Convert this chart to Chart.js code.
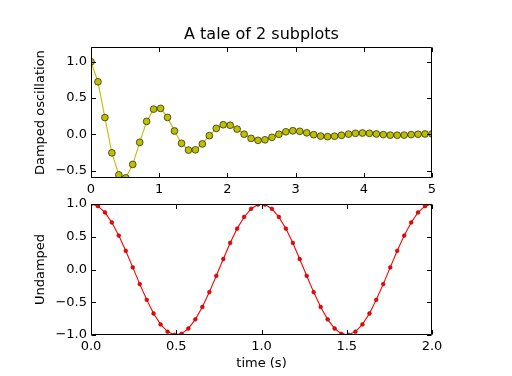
<!DOCTYPE html>
<html>
<head>
<meta charset="utf-8">
<script src="https://cdn.jsdelivr.net/npm/chart.js@4.4.1/dist/chart.umd.min.js"></script>
<style>
  html, body { margin: 0; padding: 0; background: #ffffff; }
  #wrap { position: relative; width: 512px; height: 376px; overflow: hidden; background: #fff; }
  canvas { position: absolute; left: 0; }
  #c1 { top: 0; }
  #c2 { top: 190px; }
</style>
</head>
<body>
<div id="wrap">
  <canvas id="c1" width="512" height="200"></canvas>
  <canvas id="c2" width="512" height="186"></canvas>
</div>
<script>
// ---- Data ----
const titleText = "A tale of 2 subplots";

// Top subplot: damped oscillation, 50 samples on 0..5
const dampedX = [0.000,0.102,0.204,0.306,0.408,0.510,0.612,0.714,0.816,0.918,
                 1.020,1.122,1.224,1.327,1.429,1.531,1.633,1.735,1.837,1.939,
                 2.041,2.143,2.245,2.347,2.449,2.551,2.653,2.755,2.857,2.959,
                 3.061,3.163,3.265,3.367,3.469,3.571,3.673,3.776,3.878,3.980,
                 4.082,4.184,4.286,4.388,4.490,4.592,4.694,4.796,4.898,5.000];
const dampedY = [1.000,0.724,0.232,-0.254,-0.557,-0.599,-0.413,-0.109,0.179,0.348,
                 0.358,0.234,0.047,-0.123,-0.216,-0.212,-0.131,-0.017,0.083,0.133,
                 0.126,0.073,0.003,-0.055,-0.082,-0.074,-0.040,0.002,0.036,0.050,
                 0.043,0.022,-0.004,-0.023,-0.031,-0.025,-0.012,0.004,0.015,0.019,
                 0.015,0.006,-0.003,-0.010,-0.011,-0.009,-0.003,0.002,0.006,0.007];

// Bottom subplot: undamped, 50 samples on 0..2
const undampedX = [0.000,0.041,0.082,0.122,0.163,0.204,0.245,0.286,0.327,0.367,
                   0.408,0.449,0.490,0.531,0.571,0.612,0.653,0.694,0.735,0.776,
                   0.816,0.857,0.898,0.939,0.980,1.020,1.061,1.102,1.143,1.184,
                   1.224,1.265,1.306,1.347,1.388,1.429,1.469,1.510,1.551,1.592,
                   1.633,1.673,1.714,1.755,1.796,1.837,1.878,1.918,1.959,2.000];
const undampedY = [1.000,0.967,0.871,0.718,0.518,0.285,0.032,-0.223,-0.463,-0.672,
                   -0.838,-0.949,-0.998,-0.982,-0.901,-0.761,-0.572,-0.345,-0.096,0.160,
                   0.405,0.624,0.802,0.927,0.992,0.992,0.927,0.802,0.624,0.405,
                   0.160,-0.096,-0.345,-0.572,-0.761,-0.901,-0.982,-0.998,-0.949,-0.838,
                   -0.672,-0.463,-0.223,0.032,0.285,0.518,0.718,0.871,0.967,1.000];

// Tick labels
const topXTicks = [0, 1, 2, 3, 4, 5];
const topYTicks = [-0.5, 0.0, 0.5, 1.0];
const botXTicks = [0.0, 0.5, 1.0, 1.5, 2.0];
const botYTicks = [-1.0, -0.5, 0.0, 0.5, 1.0];

const topYLabel = "Damped oscillation";
const botYLabel = "Undamped";
const botXLabel = "time (s)";

// ---- Helpers ----
const FONT = "'DejaVu Sans', 'Liberation Sans', sans-serif";
function fmt(v, dec) {
  const s = Number(v).toFixed(dec);
  return s.replace('-', '\u2212');
}
function fixedTicks(arr) {
  return function(scale) { scale.ticks = arr.map(v => ({ value: v })); };
}

// Draw the axes frame and inward ticks (matplotlib classic look)
const framePlugin = {
  id: 'frame',
  afterDatasetsDraw(chart) {
    const ctx = chart.ctx;
    const a = chart.chartArea;
    const xs = chart.scales.x, ys = chart.scales.y;
    const L = Math.round(a.left) + 0.5, R = Math.round(a.right) - 0.5;
    const T = Math.round(a.top) + 0.5, B = Math.round(a.bottom) - 0.5;
    const len = 4.5;
    ctx.save();
    ctx.strokeStyle = '#000';
    ctx.lineWidth = 1;
    ctx.beginPath();
    xs.ticks.forEach(t => {
      const px = Math.round(xs.getPixelForValue(t.value)) + 0.5;
      ctx.moveTo(px, B); ctx.lineTo(px, B - len);
      ctx.moveTo(px, T); ctx.lineTo(px, T + len);
    });
    ys.ticks.forEach(t => {
      const py = Math.round(ys.getPixelForValue(t.value)) + 0.5;
      ctx.moveTo(L, py); ctx.lineTo(L + len, py);
      ctx.moveTo(R, py); ctx.lineTo(R - len, py);
    });
    ctx.stroke();
    ctx.beginPath();
    ctx.rect(L, T, R - L, B - T);
    ctx.stroke();
    ctx.restore();
  }
};

function pts(xa, ya) { return xa.map((x, i) => ({ x: x, y: ya[i] })); }

Chart.defaults.font.family = FONT;
Chart.defaults.font.size = 13;
Chart.defaults.color = '#000';

const noGrid = { display: false, drawTicks: false, tickLength: 0 };

// ---- Top chart ----
new Chart(document.getElementById('c1'), {
  type: 'line',
  data: {
    datasets: [{
      data: pts(dampedX, dampedY),
      borderColor: '#bfbf00',
      borderWidth: 1.1,
      backgroundColor: '#bfbf00',
      pointBackgroundColor: '#bfbf00',
      pointBorderColor: '#000',
      pointBorderWidth: 0.6,
      pointRadius: 3.4,
      tension: 0,
      clip: 0
    }]
  },
  options: {
    responsive: false,
    animation: false,
    devicePixelRatio: 1,
    layout: { padding: { left: 0, right: 80, top: 0, bottom: 0 } },
    plugins: {
      legend: { display: false },
      tooltip: { enabled: false },
      title: {
        display: true, text: titleText, fullSize: false, color: '#000',
        font: { family: FONT, size: 16, weight: 'normal' },
        padding: { top: 25, bottom: 3 }
      }
    },
    scales: {
      x: {
        type: 'linear', min: 0, max: 5,
        afterBuildTicks: fixedTicks(topXTicks),
        afterFit(s) { s.height = 22; },
        grid: noGrid, border: { display: false },
        ticks: { padding: 4, maxRotation: 0, autoSkip: false,
                 callback: v => fmt(v, 0) }
      },
      y: {
        type: 'linear', min: -0.6, max: 1.2,
        afterBuildTicks: fixedTicks(topYTicks),
        afterFit(s) { s.width = 91; },
        grid: noGrid, border: { display: false },
        ticks: { padding: 4, autoSkip: false, callback: v => fmt(v, 1) },
        title: { display: true, text: topYLabel, padding: { top: 33, bottom: 0 },
                 font: { family: FONT, size: 13 } }
      }
    }
  },
  plugins: [framePlugin]
});

// ---- Bottom chart ----
new Chart(document.getElementById('c2'), {
  type: 'line',
  data: {
    datasets: [{
      data: pts(undampedX, undampedY),
      borderColor: '#ff0000',
      borderWidth: 1.1,
      backgroundColor: '#ff0000',
      pointBackgroundColor: '#ff0000',
      pointBorderColor: '#7a0000',
      pointBorderWidth: 0.5,
      pointRadius: 1.9,
      tension: 0,
      clip: 0
    }]
  },
  options: {
    responsive: false,
    animation: false,
    devicePixelRatio: 1,
    layout: { padding: { left: 0, right: 80, top: 14, bottom: 0 } },
    plugins: {
      legend: { display: false },
      tooltip: { enabled: false },
      title: { display: false }
    },
    scales: {
      x: {
        type: 'linear', min: 0, max: 2,
        afterBuildTicks: fixedTicks(botXTicks),
        afterFit(s) { s.height = 41; },
        grid: noGrid, border: { display: false },
        ticks: { padding: 4, maxRotation: 0, autoSkip: false,
                 callback: v => fmt(v, 1) },
        title: { display: true, text: botXLabel, padding: { top: 0, bottom: 5 },
                 font: { family: FONT, size: 13 } }
      },
      y: {
        type: 'linear', min: -1, max: 1,
        afterBuildTicks: fixedTicks(botYTicks),
        afterFit(s) { s.width = 91; },
        grid: noGrid, border: { display: false },
        ticks: { padding: 4, autoSkip: false, callback: v => fmt(v, 1) },
        title: { display: true, text: botYLabel, padding: { top: 33, bottom: 0 },
                 font: { family: FONT, size: 13 } }
      }
    }
  },
  plugins: [framePlugin]
});
</script>
</body>
</html>
